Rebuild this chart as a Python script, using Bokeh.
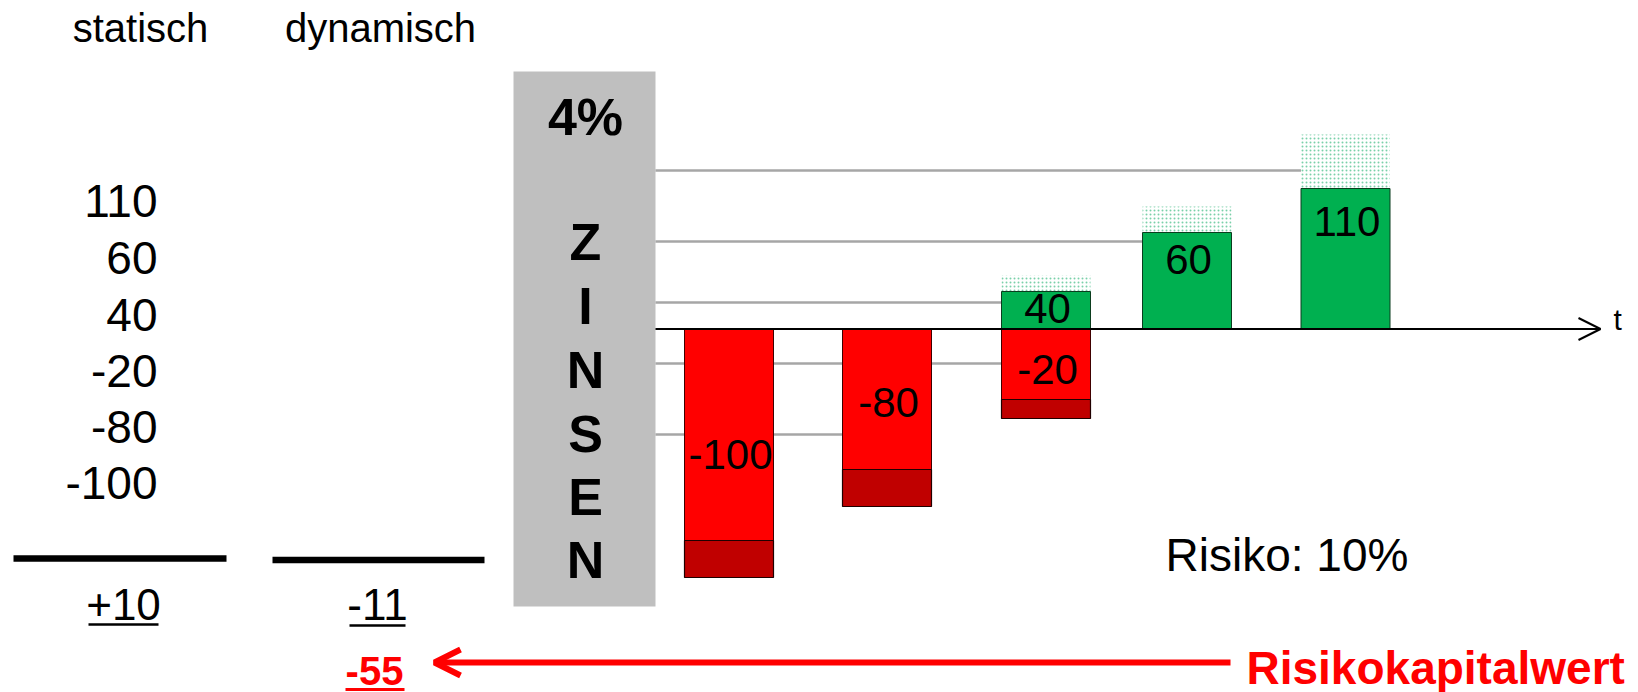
from bokeh.plotting import figure
from bokeh.models import Range1d, Arrow, OpenHead
from bokeh.core.properties import value
from bokeh.embed import file_html
from bokeh.resources import INLINE

# ---------------- data ----------------
column_titles = ["statisch", "dynamisch"]
static_values = ["110", "60", "40", "-20", "-80", "-100"]
static_total = "+10"
dynamic_total = "-11"
risk_capital_value = "-55"
risk_capital_label = "Risikokapitalwert"
interest_label = "4%"
interest_word = ["Z", "I", "N", "S", "E", "N"]
risk_label = "Risiko: 10%"
time_label = "t"

# negative cash flows (periods 1-3): label, drawn depth of bar, drawn risk add-on
neg_periods = [1, 2, 3]
neg_labels = ["-100", "-80", "-20"]
neg_depth = [211, 140, 70]
neg_risk = [37, 37, 19]

# positive cash flows (periods 3-5)
pos_periods = [3, 4, 5]
pos_labels = ["40", "60", "110"]
pos_height = [38, 97, 141]
pos_risk = [16, 26, 54]

# static reference levels (grey lines) and the period they reach
ref_levels = [159, 88, 27, -34, -105]
ref_periods = [5, 4, 3, 3, 2]

# ---------------- layout ----------------
FONT = value("Liberation Sans")
W, H = 1638, 692
AX = 329  # screen y of the time axis


def sy(y_screen):
    return AX - y_screen


period_x = {1: 728.5, 2: 886.5, 3: 1045.5, 4: 1186.5, 5: 1345.0}
BAR_W = 89
box_left, box_right = 513, 655

p = figure(width=W, height=H, x_range=Range1d(0, W),
           y_range=Range1d(AX - H, AX), output_backend="svg",
           toolbar_location=None, min_border=0)
p.axis.visible = False
p.grid.visible = False
p.outline_line_color = None
p.background_fill_color = "white"


def txt(xs, ys, texts, size, color="black", bold=False, align="center"):
    p.text(x=xs, y=ys, text=texts, text_font=FONT, text_font_size=value(size),
           text_font_style="bold" if bold else "normal", text_align=align,
           text_baseline="middle", text_color=color)


# grey interest box
p.quad(left=[box_left], right=[box_right], top=[sy(71)], bottom=[sy(606)],
       fill_color="#BFBFBF", line_color=None)

# grey reference lines
p.segment(x0=[box_right] * len(ref_levels),
          x1=[period_x[t] - BAR_W / 2 for t in ref_periods],
          y0=ref_levels, y1=ref_levels, line_color="#A6A6A6", line_width=2.5)

# negative bars
nx = [period_x[t] for t in neg_periods]
p.quad(left=[x - BAR_W / 2 for x in nx], right=[x + BAR_W / 2 for x in nx],
       top=[0] * 3, bottom=[-d for d in neg_depth],
       fill_color="#FF0000", line_color="#400000", line_width=1)
p.quad(left=[x - BAR_W / 2 for x in nx], right=[x + BAR_W / 2 for x in nx],
       top=[-d for d in neg_depth], bottom=[-(d + r) for d, r in zip(neg_depth, neg_risk)],
       fill_color="#C00000", line_color="#200000", line_width=1.2)

# positive bars
px = [period_x[t] for t in pos_periods]
p.quad(left=[x - BAR_W / 2 for x in px], right=[x + BAR_W / 2 for x in px],
       top=[h + r for h, r in zip(pos_height, pos_risk)], bottom=pos_height,
       fill_color="white", line_color=None,
       hatch_pattern="dot", hatch_color="#22B070", hatch_alpha=0.6,
       hatch_scale=4, hatch_weight=1)
p.quad(left=[x - BAR_W / 2 for x in px], right=[x + BAR_W / 2 for x in px],
       top=pos_height, bottom=[0] * 3,
       fill_color="#00B050", line_color="#0B3D1E", line_width=1)

# time axis
p.add_layout(Arrow(x_start=box_right, y_start=sy(328.5), x_end=1600, y_end=sy(328.5),
                   line_color="black", line_width=2,
                   end=OpenHead(size=22, line_color="black", line_width=2)))
txt([1613], [sy(319)], [time_label], "30px", align="left")

# bar labels
label_x = nx + px
label_y = [sy(454), sy(402), sy(369), sy(308), sy(259), sy(221)]
txt([x + 1.5 for x in label_x], label_y, neg_labels + pos_labels, "42px")

# interest box texts
txt([585], [sy(116)], [interest_label], "52px", bold=True)
txt([585] * 6, [sy(v) for v in [241, 305, 369, 433, 496, 559]], interest_word,
    "52px", bold=True)

# column titles
txt([140, 380], [sy(27)] * 2, column_titles, "40px")

# static list
txt([157] * 6, [sy(v) for v in [200, 257, 314, 370, 426, 482]], static_values,
    "46px", align="right")

# sum lines
p.segment(x0=[13, 272], x1=[226, 484], y0=[sy(558), sy(559.5)], y1=[sy(558), sy(559.5)],
          line_color="black", line_width=6.5)

# totals
txt([123, 377], [sy(604)] * 2, [static_total, dynamic_total], "44px")
p.segment(x0=[88, 349], x1=[158, 405], y0=[sy(624), sy(625)], y1=[sy(624), sy(625)],
          line_color="black", line_width=2.5)

# risk capital value
txt([374], [sy(670)], [risk_capital_value], "40px", color="#FF0000", bold=True)
p.segment(x0=[345], x1=[404], y0=[sy(689)], y1=[sy(689)], line_color="#FF0000",
          line_width=3)
p.add_layout(Arrow(x_start=1230, y_start=sy(662), x_end=434, y_end=sy(662),
                   line_color="#FF0000", line_width=6,
                   end=OpenHead(size=26, line_color="#FF0000", line_width=6)))
txt([1246], [sy(667)], [risk_capital_label], "46px", color="#FF0000", bold=True,
    align="left")

# risk rate
txt([1165], [sy(554)], [risk_label], "46px", align="left")

open("out.html", "w").write(file_html(p, INLINE))
